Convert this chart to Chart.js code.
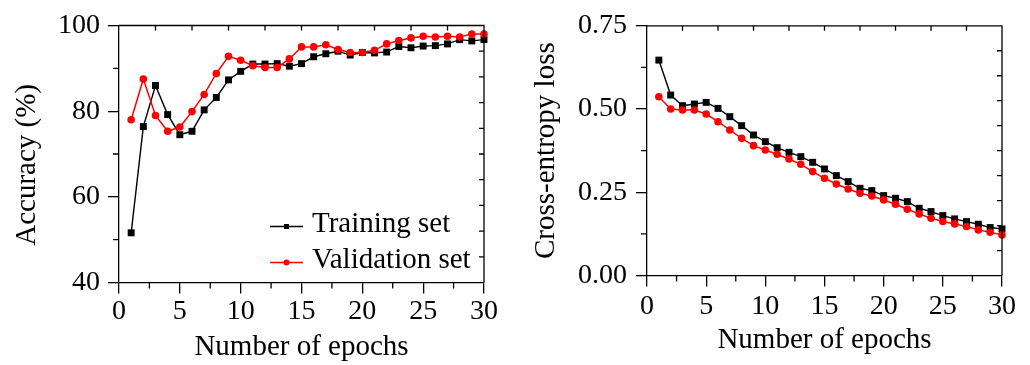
<!DOCTYPE html>
<html>
<head>
<meta charset="utf-8">
<script src="https://cdn.jsdelivr.net/npm/chart.js@4.4.1/dist/chart.umd.min.js"></script>
<style>
  html, body { margin: 0; padding: 0; background: #fff; }
  #wrap { position: relative; width: 1030px; height: 365px; }
  .panel { position: absolute; top: 0; width: 515px; height: 365px; }
</style>
</head>
<body>
<div id="wrap">
  <div class="panel" style="left:0"><canvas id="accChart" width="515" height="365"></canvas></div>
  <div class="panel" style="left:515px"><canvas id="lossChart" width="515" height="365"></canvas></div>
</div>

<script>
/* ─── Data ──────────────────────────────────────── */
const EPOCHS     = [1, 2, 3, 4, 5, 6, 7, 8, 9, 10, 11, 12, 13, 14, 15,
                    16, 17, 18, 19, 20, 21, 22, 23, 24, 25, 26, 27, 28, 29, 30];

const TRAIN_ACC  = [51.6, 76.4, 86.0, 79.2, 74.5, 75.3, 80.3, 83.2, 87.3, 89.3,
                    91.0, 91.0, 91.1, 90.5, 91.1, 92.7, 93.4, 94.0, 93.1, 93.7,
                    93.6, 93.8, 95.1, 94.8, 95.2, 95.3, 95.7, 96.7, 96.4, 96.7];
const VAL_ACC    = [78.0, 87.5, 79.0, 75.3, 76.3, 79.9, 83.9, 88.8, 92.8, 91.9,
                    90.6, 90.2, 90.2, 92.2, 95.0, 95.0, 95.5, 94.4, 93.7, 93.7,
                    94.2, 95.7, 96.5, 97.1, 97.5, 97.3, 97.5, 97.3, 98.0, 98.0];

const TRAIN_LOSS = [0.647, 0.542, 0.510, 0.515, 0.520, 0.502, 0.477, 0.450, 0.422, 0.402,
                    0.384, 0.370, 0.357, 0.340, 0.320, 0.300, 0.282, 0.262, 0.255, 0.240,
                    0.232, 0.222, 0.202, 0.192, 0.180, 0.170, 0.162, 0.154, 0.144, 0.140];
const VAL_LOSS   = [0.537, 0.500, 0.497, 0.497, 0.485, 0.462, 0.437, 0.412, 0.390, 0.377,
                    0.364, 0.350, 0.334, 0.312, 0.292, 0.275, 0.260, 0.247, 0.239, 0.227,
                    0.214, 0.199, 0.185, 0.172, 0.162, 0.155, 0.147, 0.137, 0.130, 0.122];

const SERIES_NAMES = ['Training set', 'Validation set'];

/* ─── Global defaults ───────────────────────────── */
const SERIF = "'Liberation Serif', 'Times New Roman', serif";
Chart.defaults.font.family = SERIF;
Chart.defaults.color       = '#000';

const pairs = arr => EPOCHS.map((e, i) => ({ x: e, y: arr[i] }));

/* ─── Plugin: frame, minor ticks, inward top/right ticks ── */
const frameTicks = {
  id: 'frameTicks',
  afterDraw(chart, args, o) {
    const { ctx, chartArea: a, scales: { x, y } } = chart;
    ctx.save();
    ctx.strokeStyle = '#000';
    ctx.lineWidth   = 1.3;
    ctx.beginPath();
    ctx.moveTo(a.left, a.top);
    ctx.lineTo(a.right, a.top);
    ctx.lineTo(a.right, a.bottom);

    o.xMinor.forEach(v => {
      const px = x.getPixelForValue(v);
      ctx.moveTo(px, a.bottom); ctx.lineTo(px, a.bottom + 6);
    });
    o.yMinor.forEach(v => {
      const py = y.getPixelForValue(v);
      ctx.moveTo(a.left - 6, py); ctx.lineTo(a.left, py);
    });

    // opposite axes: 10 divisions, ticks pointing in
    for (let i = 1; i < 10; i++) {
      const px = x.getPixelForValue(x.min + (x.max - x.min) * i / 10);
      ctx.moveTo(px, a.top); ctx.lineTo(px, a.top + 5);
      const py = y.getPixelForValue(y.min + (y.max - y.min) * i / 10);
      ctx.moveTo(a.right, py); ctx.lineTo(a.right - 5, py);
    }
    ctx.stroke();
    ctx.restore();
  }
};

/* ─── Plugin: legend box inside the plot ────────── */
const cornerLegend = {
  id: 'cornerLegend',
  afterDraw(chart, args, o) {
    if (!o.show) return;
    const ctx = chart.ctx;
    ctx.save();
    ctx.font = `${o.size}px ${SERIF}`;
    ctx.textBaseline = 'alphabetic';
    chart.data.datasets.forEach((ds, i) => {
      const base = o.baselines[i];
      const ly   = base - 5.5;
      const mx   = o.x + o.lineLen / 2;
      ctx.strokeStyle = ds.borderColor;
      ctx.fillStyle   = ds.borderColor;
      ctx.lineWidth   = 1.4;
      ctx.beginPath();
      ctx.moveTo(o.x, ly); ctx.lineTo(o.x + o.lineLen, ly);
      ctx.stroke();
      ctx.beginPath();
      if (ds.pointStyle === 'rect') ctx.rect(mx - 2.5, ly - 2.5, 5, 5);
      else ctx.arc(mx, ly, 3, 0, Math.PI * 2);
      ctx.fill();
      ctx.fillStyle = '#000';
      ctx.fillText(ds.label, o.textX, base);
    });
    ctx.restore();
  }
};

/* ─── Shared builders ───────────────────────────── */
function makeDatasets(train, val) {
  return [
    {
      label: SERIES_NAMES[0], data: pairs(train),
      borderColor: '#000', backgroundColor: '#000', borderWidth: 1.4,
      pointStyle: 'rect', pointRadius: 4.9, pointBorderWidth: 0,
      pointBackgroundColor: '#000', tension: 0, clip: false, order: 1
    },
    {
      label: SERIES_NAMES[1], data: pairs(val),
      borderColor: '#ff0000', backgroundColor: '#ff0000', borderWidth: 1.5,
      pointStyle: 'circle', pointRadius: 3.8, pointBorderWidth: 0,
      pointBackgroundColor: '#ff0000', tension: 0, clip: false, order: 0
    }
  ];
}

const axisLine = { display: true, color: '#000', width: 1.3 };
const tickMarks = { drawOnChartArea: false, drawTicks: true, tickLength: 11, color: '#000', lineWidth: 1.3 };

/* ─── 1. Accuracy chart ─────────────────────────── */
(function initAccChart() {
  const ctx = document.getElementById('accChart').getContext('2d');
  new Chart(ctx, {
    type: 'line',
    data: { datasets: makeDatasets(TRAIN_ACC, VAL_ACC) },
    options: {
      responsive: false,
      animation:  false,
      layout: { padding: { top: 25.5, right: 31, left: 0, bottom: 0 } },
      plugins: {
        legend:  { display: false },
        tooltip: { enabled: false },
        frameTicks:   { xMinor: [2.5, 7.5, 12.5, 17.5, 22.5, 27.5], yMinor: [50, 70, 90] },
        cornerLegend: { show: true, size: 29, x: 270, lineLen: 33, textX: 312, baselines: [232, 268] }
      },
      scales: {
        x: {
          type: 'linear', min: 0, max: 30,
          ticks:  { stepSize: 5, padding: 1, font: { size: 28 } },
          grid:   tickMarks,
          border: axisLine,
          title:  { display: true, text: 'Number of epochs', font: { size: 29, lineHeight: 1 }, padding: { top: 0, bottom: 3.3 } },
          afterFit: s => { s.height = 82.5; }
        },
        y: {
          min: 40, max: 100,
          ticks:  { stepSize: 20, padding: 8, font: { size: 28 } },
          grid:   tickMarks,
          border: axisLine,
          title:  { display: true, text: 'Accuracy (%)   ', font: { size: 29, lineHeight: 1 }, padding: { top: 13.2, bottom: 0 } },
          afterFit: s => { s.width = 119; }
        }
      }
    },
    plugins: [frameTicks, cornerLegend]
  });
})();

/* ─── 2. Cross-entropy loss chart ───────────────── */
(function initLossChart() {
  const ctx = document.getElementById('lossChart').getContext('2d');
  new Chart(ctx, {
    type: 'line',
    data: { datasets: makeDatasets(TRAIN_LOSS, VAL_LOSS) },
    options: {
      responsive: false,
      animation:  false,
      layout: { padding: { top: 25.5, right: 28, left: 0, bottom: 0 } },
      plugins: {
        legend:  { display: false },
        tooltip: { enabled: false },
        frameTicks:   { xMinor: [2.5, 7.5, 12.5, 17.5, 22.5, 27.5], yMinor: [0.125, 0.375, 0.625] },
        cornerLegend: { show: false }
      },
      scales: {
        x: {
          type: 'linear', min: 0, max: 30,
          ticks:  { stepSize: 5, padding: 3, font: { size: 28 } },
          grid:   tickMarks,
          border: axisLine,
          title:  { display: true, text: 'Number of epochs', font: { size: 29, lineHeight: 1 }, padding: { top: 0, bottom: 10.3 } },
          afterFit: s => { s.height = 89.5; }
        },
        y: {
          min: 0, max: 0.75,
          ticks:  { stepSize: 0.25, padding: 9, font: { size: 28 }, callback: v => v.toFixed(2) },
          grid:   tickMarks,
          border: axisLine,
          title:  { display: true, text: 'Cross-entropy loss', font: { size: 29, lineHeight: 1 }, padding: { top: 16.7, bottom: 0 } },
          afterFit: s => { s.width = 132; }
        }
      }
    },
    plugins: [frameTicks]
  });
})();
</script>
</body>
</html>
